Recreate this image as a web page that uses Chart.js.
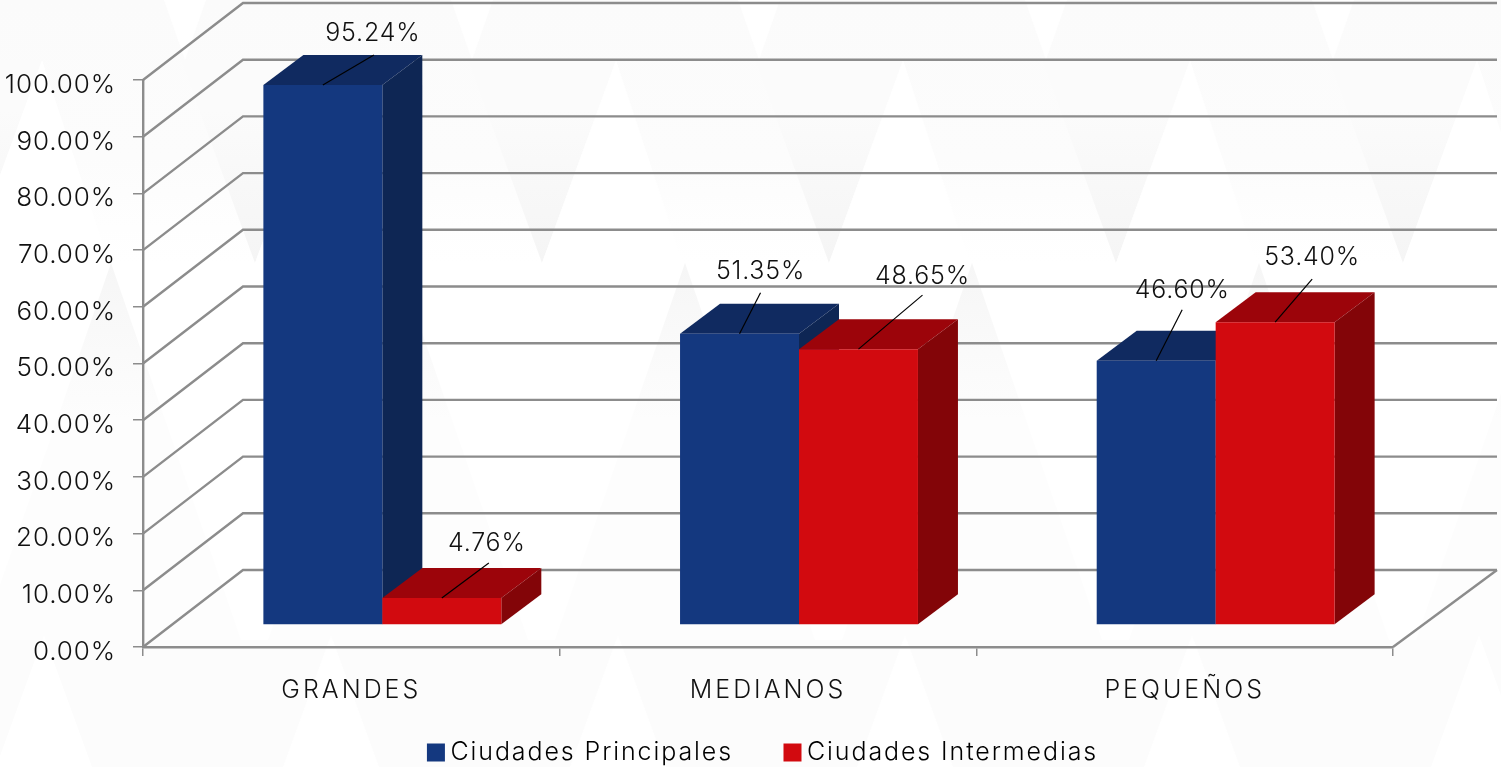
<!DOCTYPE html>
<html>
<head>
<meta charset="utf-8">
<style>html,body{margin:0;padding:0;background:#fff;overflow:hidden}canvas{display:block}</style>
<script src="https://cdn.jsdelivr.net/npm/chart.js@4"></script>
</head>
<body>
<canvas id="c" width="1501" height="767"></canvas>
<script>
const categories = ['GRANDES', 'MEDIANOS', 'PEQUEÑOS'];
const seriesPrincipalesName = 'Ciudades Principales';
const seriesIntermediasName = 'Ciudades Intermedias';
const seriesPrincipales = [95.24, 51.35, 46.60];
const seriesIntermedias = [4.76, 48.65, 53.40];

const FONT = '"Inter"';
const WEIGHT = 300;
const GRID = '#8c8c8c';
const BLUE = {front:'#14387f', top:'#102a60', side:'#0e2654'};
const RED = {front:'#d20a0f', top:'#9c040a', side:'#830508'};
const shades = [BLUE, RED];
const BAR_SHIFT = {x:31, y:-22};
const BAR_DEPTH = {x:40, y:-30};
const WALL = {x:100, y:-77, right:1497};
const SPACING = {legend:'1.9px', x:'3px', y:'0.9px', data:'0.8px'};
// label centre and leader end, relative to the top-centre of each bar's front face
const labelOffset = [
  [{x:50,y:-52,lx:51,ly:-30},{x:45,y:-55,lx:47,ly:-35}],
  [{x:21,y:-62,lx:21,ly:-41},{x:64,y:-73,lx:64,ly:-54}],
  [{x:26,y:-70,lx:26,ly:-51},{x:37,y:-65,lx:37,ly:-43}]
];

function poly(ctx, pts, fill){
  ctx.beginPath();
  pts.forEach((p,i)=> i?ctx.lineTo(p[0],p[1]):ctx.moveTo(p[0],p[1]));
  ctx.closePath();
  ctx.fillStyle = fill; ctx.fill();
}
function spaced(scale, spacing){
  const orig = scale.drawLabels;
  scale.drawLabels = function(ca){
    const ctx = this.ctx, prev = ctx.letterSpacing;
    ctx.letterSpacing = spacing;
    orig.call(this, ca);
    ctx.letterSpacing = prev;
  };
}

const scene = {
  id:'scene',
  beforeUpdate(chart){ chart.ctx.letterSpacing = SPACING.legend; },
  beforeLayout(chart){
    const lg = chart.legend;
    if(lg && !lg.$fit){
      lg.$fit = true;
      const orig = lg.fit;
      lg.fit = function(){ orig.call(this); this.height = 50; };
    }
  },
  afterLayout(chart){
    const lg = chart.legend;
    lg.left = 0; lg.right = 1532; lg.top = 682.5; lg.bottom = 767;
    if(!chart.$spaced){
      chart.$spaced = true;
      spaced(chart.scales.x, SPACING.x);
      spaced(chart.scales.y, SPACING.y);
    }
  },
  beforeDraw(chart){
    const ctx = chart.ctx;
    ctx.save();
    ctx.fillStyle='#ffffff'; ctx.fillRect(0,0,1501,767);
    // faint triangular backdrop
    const P = 287;
    const band = ctx.createLinearGradient(0,0,0,263);
    band.addColorStop(0,'#fbfbfb'); band.addColorStop(.6,'#fcfcfc'); band.addColorStop(1,'#ffffff');
    ctx.fillStyle=band; ctx.fillRect(0,0,1501,263);
    ctx.fillStyle='#fcfcfc'; ctx.fillRect(0,640,1501,127);
    for(let k=-3;k<4;k++){
      const o = P*k;
      const g = ctx.createLinearGradient(0,263,0,110);
      g.addColorStop(0,'#f5f5f5'); g.addColorStop(1,'#fbfbfb');
      poly(ctx,[[829+o,263],[755+o,60],[903+o,60]],g);
      poly(ctx,[[903+o,60],[829+o,263],[970+o,263]],'#ffffff');
      poly(ctx,[[759+o,60],[738+o,0],[780+o,0]],'#ffffff');
      const g2 = ctx.createLinearGradient(0,263,0,420);
      g2.addColorStop(0,'#f6f6f6'); g2.addColorStop(1,'#fdfdfd');
      poly(ctx,[[685+o,263],[815+o,640],[555+o,640]],g2);
      poly(ctx,[[618+o,635],[570+o,767],[666+o,767]],'#ffffff');
    }
    ctx.restore();
  },
  beforeDatasetsDraw(chart){
    const ctx = chart.ctx, y = chart.scales.y, a = chart.chartArea;
    ctx.save();
    ctx.strokeStyle = GRID; ctx.lineWidth = 2.4; ctx.lineJoin='miter';
    y.ticks.forEach(t=>{
      const py = y.getPixelForValue(t.value);
      ctx.beginPath();
      ctx.moveTo(a.left, py);
      ctx.lineTo(a.left+WALL.x, py+WALL.y);
      ctx.lineTo(WALL.right, py+WALL.y);
      ctx.stroke();
    });
    ctx.beginPath();
    ctx.moveTo(a.right, a.bottom);
    ctx.lineTo(WALL.right, a.bottom+WALL.y);
    ctx.stroke();
    ctx.restore();
    chart.data.datasets.forEach((ds,di)=>{
      const meta = chart.getDatasetMeta(di), s = shades[di];
      ctx.save();
      ctx.translate(BAR_SHIFT.x, BAR_SHIFT.y);
      meta.data.forEach(b=>{
        const l=b.x-b.width/2, r=b.x+b.width/2, t=b.y, base=b.base;
        poly(ctx,[[l,t],[l+BAR_DEPTH.x,t+BAR_DEPTH.y],[r+BAR_DEPTH.x,t+BAR_DEPTH.y],[r,t]],s.top);
        poly(ctx,[[r,t],[r+BAR_DEPTH.x,t+BAR_DEPTH.y],[r+BAR_DEPTH.x,base+BAR_DEPTH.y],[r,base]],s.side);
      });
      meta.controller.draw();
      ctx.restore();
    });
  },
  beforeDatasetDraw(){ return false; },
  afterDatasetsDraw(chart){
    const ctx = chart.ctx;
    ctx.save();
    ctx.font = `${WEIGHT} 25px ${FONT}`;
    ctx.letterSpacing = SPACING.data;
    ctx.textAlign='center'; ctx.textBaseline='middle';
    chart.data.datasets.forEach((ds,di)=>{
      chart.getDatasetMeta(di).data.forEach((b,i)=>{
        const o = labelOffset[i][di];
        const bx = b.x+BAR_SHIFT.x, by = b.y+BAR_SHIFT.y;
        ctx.strokeStyle='#000'; ctx.lineWidth=1.2;
        ctx.beginPath(); ctx.moveTo(bx,by); ctx.lineTo(bx+o.lx,by+o.ly); ctx.stroke();
        ctx.fillStyle='#111';
        ctx.fillText(ds.data[i].toFixed(2)+'%', bx+o.x, by+o.y);
      });
    });
    ctx.restore();
  }
};

new Chart(document.getElementById('c'),{
  type:'bar',
  data:{labels:categories,datasets:[
    {label:seriesPrincipalesName,data:seriesPrincipales,backgroundColor:BLUE.front,borderWidth:0,barPercentage:1,categoryPercentage:.571},
    {label:seriesIntermediasName,data:seriesIntermedias,backgroundColor:RED.front,borderWidth:0,barPercentage:1,categoryPercentage:.571}
  ]},
  plugins:[scene],
  options:{
    responsive:false,animation:false,
    layout:{padding:{top:80,right:108,left:0,bottom:0}},
    plugins:{
      tooltip:{enabled:false},
      title:{display:false},
      legend:{
        position:'bottom',
        labels:{
          boxWidth:4,boxHeight:4,padding:57.5,color:'#111',
          font:{family:FONT,size:25,weight:WEIGHT},
          generateLabels(chart){
            return chart.data.datasets.map((d,i)=>({text:d.label,fillStyle:d.backgroundColor,strokeStyle:d.backgroundColor,lineWidth:14,datasetIndex:i}));
          }
        }
      }
    },
    scales:{
      x:{
        offset:true,
        afterFit(s){s.height=70;},
        grid:{offset:true,drawOnChartArea:false,drawTicks:true,tickLength:9,color:GRID,lineWidth:1.5},
        border:{display:true,color:GRID,width:2.4},
        ticks:{color:'#111',padding:19,maxRotation:0,autoSkip:false,font:{family:FONT,size:25,weight:WEIGHT}}
      },
      y:{
        min:0,max:100,
        afterFit(s){s.width=143;},
        grid:{drawOnChartArea:false,drawTicks:true,tickLength:10,color:GRID,lineWidth:1.5},
        border:{display:true,color:GRID,width:2.4},
        ticks:{stepSize:10,color:'#111',padding:17,labelOffset:5,font:{family:FONT,size:26,weight:WEIGHT},callback:v=>Number(v).toFixed(2)+'%'}
      }
    }
  }
});
</script>
</body>
</html>
